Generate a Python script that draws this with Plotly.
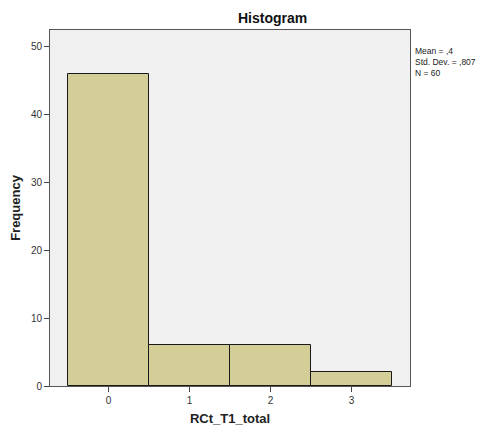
import plotly.graph_objects as go

categories = [0, 1, 2, 3]
frequency = [46, 6, 6, 2]
y_ticks = [0, 10, 20, 30, 40, 50]
stats_lines = ["Mean = ,4", "Std. Dev. = ,807", "N = 60"]

# the page body adds an 8px offset at top-left, so the figure is sized to fit
OFF = 8
W, H = 485 - OFF, 431 - OFF
L, R, T, B = 50 - OFF, 75, 30 - OFF, 45
PW, PH = W - L - R, H - T - B

fig = go.Figure()
fig.add_trace(go.Bar(
    x=categories, y=frequency, width=1,
    marker=dict(color="#d3ce97", line=dict(color="#1a1a1a", width=1)),
    showlegend=False,
))

fig.update_layout(
    width=W, height=H,
    margin=dict(l=L, r=R, t=T, b=B, pad=0, autoexpand=False),
    paper_bgcolor="white",
    plot_bgcolor="#f0f0f0",
    font=dict(family="Liberation Sans, Arial, sans-serif", color="#222222", size=10),
    bargap=0,
)
fig.update_xaxes(
    range=[-0.722, 3.722], automargin=False,
    tickvals=categories, ticktext=[str(c) for c in categories],
    ticks="outside", ticklen=5, tickcolor="#444444",
    showgrid=False, zeroline=False,
    showline=True, linecolor="#555555", linewidth=1, mirror=True,
    tickfont=dict(size=10, color="#333333"),
    title=dict(text="<b>RCt_T1_total</b>", font=dict(size=13, color="#222222"), standoff=8),
)
fig.update_yaxes(
    range=[0, 52.5], automargin=False,
    tickvals=y_ticks,
    ticks="outside", ticklen=5, tickcolor="#444444",
    showgrid=False, zeroline=False,
    showline=True, linecolor="#555555", linewidth=1, mirror=True,
    tickfont=dict(size=10, color="#333333"),
    title=dict(text="<b>Frequency</b>", font=dict(size=13, color="#222222"), standoff=10),
)

fig.add_annotation(
    text="<b>Histogram</b>", x=(272 - 50) / PW, y=1 + 12 / PH,
    xref="paper", yref="paper", xanchor="center", yanchor="middle",
    showarrow=False, font=dict(size=14, color="#111111"),
)
fig.add_annotation(
    text="<br>".join(stats_lines),
    x=1.0, xshift=4, y=1.0, yshift=-32,
    xref="paper", yref="paper", xanchor="left", yanchor="middle", align="left",
    showarrow=False, borderpad=0, font=dict(size=8.5, color="#222222"),
)

fig.write_html("out.html")
